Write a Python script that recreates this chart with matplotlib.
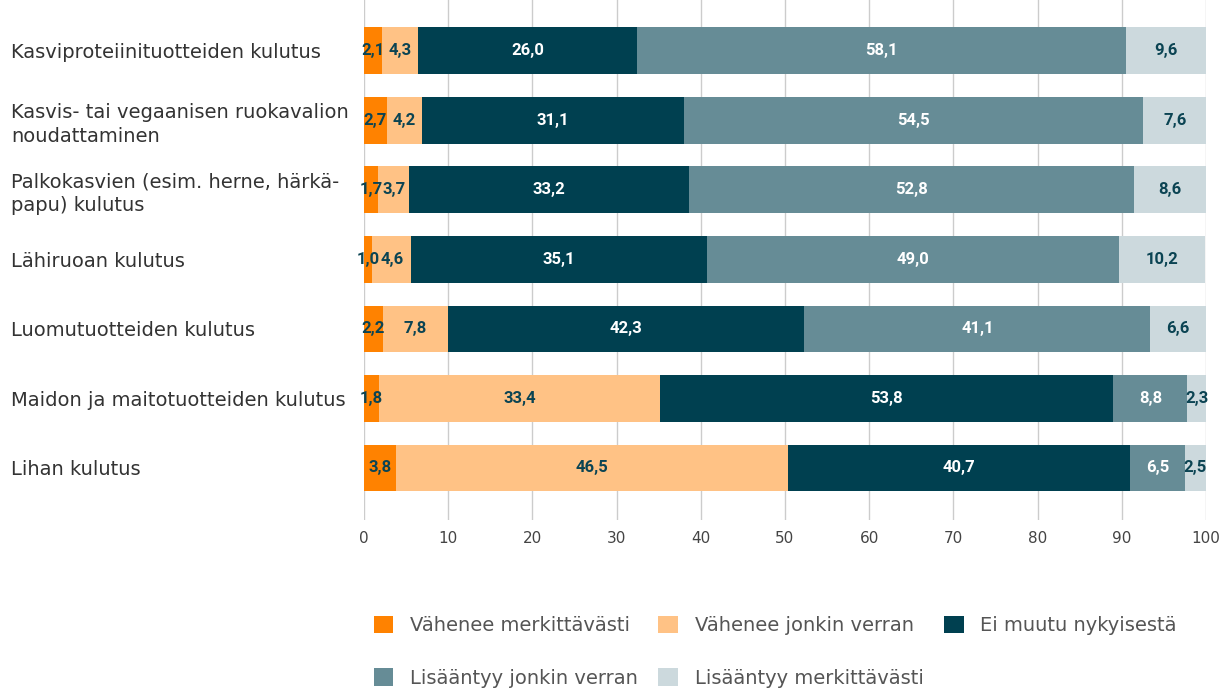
import matplotlib

matplotlib.use("Agg")
import matplotlib.pyplot as plt
import numpy as np

categories = [
    "Kasviproteiinituotteiden kulutus",
    "Kasvis- tai vegaanisen ruokavalion\nnoudattaminen",
    "Palkokasvien (esim. herne, härkä-\npapu) kulutus",
    "Lähiruoan kulutus",
    "Luomutuotteiden kulutus",
    "Maidon ja maitotuotteiden kulutus",
    "Lihan kulutus",
]
series_names = [
    "Vähenee merkittävästi",
    "Vähenee jonkin verran",
    "Ei muutu nykyisestä",
    "Lisääntyy jonkin verran",
    "Lisääntyy merkittävästi",
]
vahenee_merk = [2.1, 2.7, 1.7, 1.0, 2.2, 1.8, 3.8]
vahenee_jonkin = [4.3, 4.2, 3.7, 4.6, 7.8, 33.4, 46.5]
ei_muutu = [26.0, 31.1, 33.2, 35.1, 42.3, 53.8, 40.7]
lisaantyy_jonkin = [58.1, 54.5, 52.8, 49.0, 41.1, 8.8, 6.5]
lisaantyy_merk = [9.6, 7.6, 8.6, 10.2, 6.6, 2.3, 2.5]

colors = ["#FF8200", "#FFC285", "#004050", "#668C96", "#CCD9DD"]
text_colors = ["#0B4453", "#0B4453", "white", "white", "#0B4453"]

series = [vahenee_merk, vahenee_jonkin, ei_muutu, lisaantyy_jonkin, lisaantyy_merk]

fig = plt.figure(figsize=(12.27, 6.91), dpi=100)
ax = fig.add_axes([364 / 1227, 1 - 520 / 691, (1206 - 364) / 1227, 520 / 691])

y = np.arange(len(categories))
left = np.zeros(len(categories))
handles = []
for vals, col, tcol, name in zip(series, colors, text_colors, series_names):
    vals = np.array(vals)
    bars = ax.barh(y, vals, left=left, height=0.67, color=col, label=name, zorder=3)
    handles.append(bars)
    for yi, l, v in zip(y, left, vals):
        ax.text(l + v / 2, yi, f"{v:.1f}".replace(".", ","), ha="center", va="center",
                color=tcol, fontsize=12, fontweight="bold", family=["Roboto", "DejaVu Sans"],
                zorder=4)
    left += vals

ax.set_xlim(0, 100)
ax.set_ylim(6.75, -0.73)
ax.set_xticks(np.arange(0, 101, 10))
ax.grid(axis="x", color="#cccccc", linewidth=1, zorder=0)
for s in ax.spines.values():
    s.set_visible(False)
ax.tick_params(axis="x", length=0, labelsize=11, labelcolor="#444444", pad=8)
ax.tick_params(axis="y", length=0, pad=254)
ax.set_yticks(y)
ax.set_yticklabels(categories, fontsize=14, color="#333333", linespacing=1.3)
for lbl in ax.get_yticklabels():
    lbl.set_horizontalalignment("left")

# legend: 3 columns, row order
order = [0, 3, 1, 4, 2]
leg = fig.legend([handles[i] for i in order], [series_names[i] for i in order],
                 ncol=3, loc="upper left", bbox_to_anchor=(366 / 1227, 1 - 608 / 691),
                 frameon=False, fontsize=14, labelcolor="#555555",
                 handlelength=1.0, handleheight=1.0, handletextpad=0.87,
                 columnspacing=1.05, labelspacing=1.7, borderaxespad=0)

fig.savefig("out.png", dpi=100)
